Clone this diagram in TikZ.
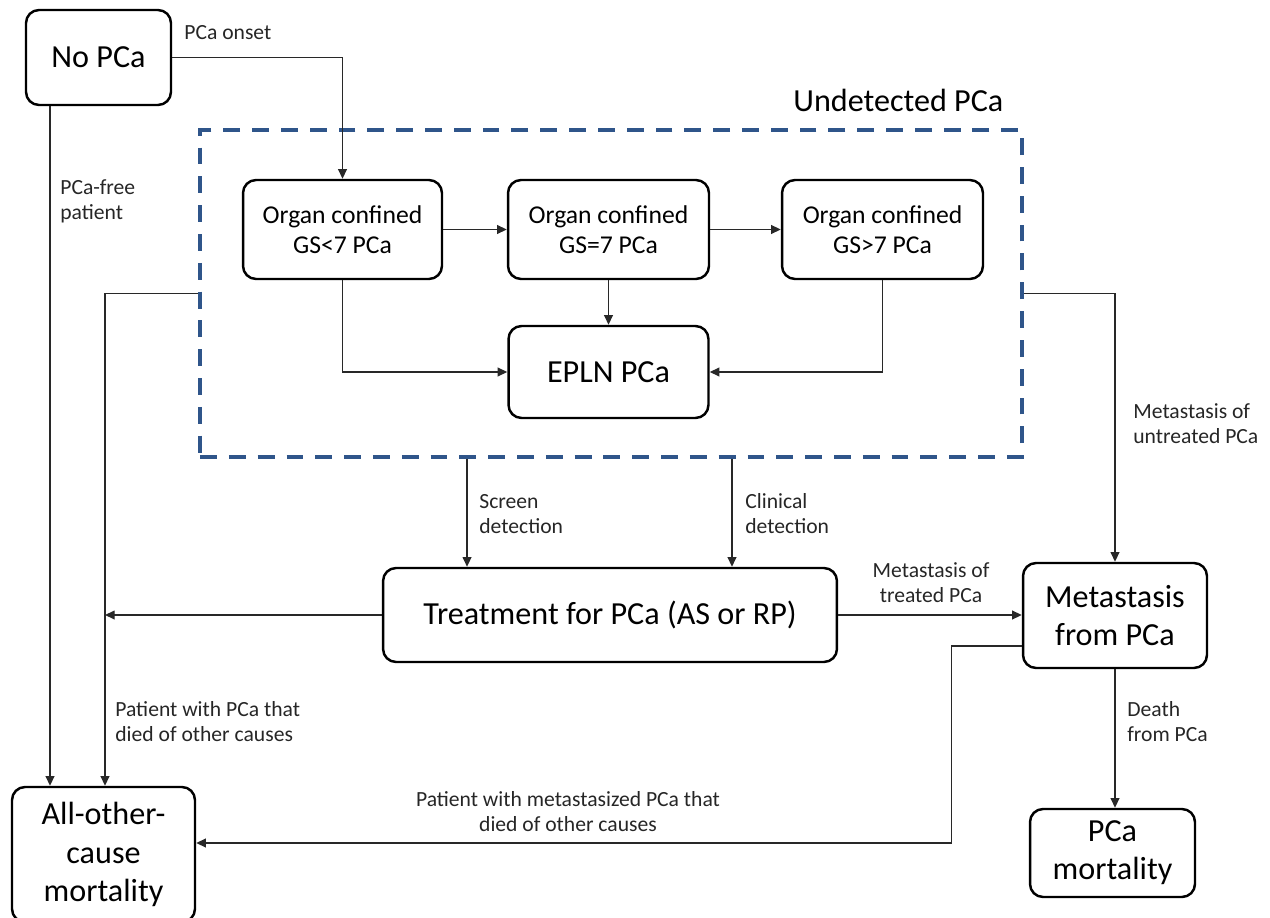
\documentclass[tikz,border=0pt]{standalone}
\usepackage{fontspec}
\setmainfont{Carlito}
\usetikzlibrary{arrows.meta,calc}
\definecolor{dashblue}{RGB}{47,85,138}
\definecolor{linegray}{RGB}{40,40,40}
\tikzset{
  box/.style={draw=black, line width=1.4pt, rounded corners=0.26cm, align=center, inner sep=0pt},
  bigtxt/.style={font=\fontsize{18.3}{21.7}\selectfont},
  midtxt/.style={font=\fontsize{14.6}{17.4}\selectfont},
  lbl/.style={font=\fontsize{12.3}{14.4}\selectfont, inner sep=0pt, align=left, text=black!85},
  arr/.style={draw=linegray, line width=0.75pt, -{Triangle[length=5.5pt,width=5pt]}},
  plain/.style={draw=linegray, line width=0.75pt},
  undetbox/.style={draw=dashblue, line width=1.9pt, dash pattern=on 9.6pt off 6.8pt, inner sep=0pt}
}
\begin{document}
\begin{tikzpicture}[x=0.02cm,y=-0.02cm]
\useasboundingbox (0,0) rectangle (1270,918);
% nodes
\node[undetbox, minimum width=16.44cm, minimum height=6.54cm] (undet) at (611,293.5) {};
\node[bigtxt, anchor=base west, inner sep=0pt] (undetlbl) at (793,112) {Undetected PCa};
\node[box, bigtxt, minimum width=2.9cm, minimum height=1.9cm] (nopca) at (98.5,57.5) {No PCa};
\node[box, midtxt, minimum width=3.98cm, minimum height=1.98cm] (oc1) at (342.5,229.5) {Organ confined\\GS<7 PCa};
\node[box, midtxt, minimum width=4.02cm, minimum height=1.98cm] (oc2) at (608.5,229.5) {Organ confined\\GS=7 PCa};
\node[box, midtxt, minimum width=4.02cm, minimum height=1.98cm] (oc3) at (882.5,229.5) {Organ confined\\GS>7 PCa};
\node[box, bigtxt, minimum width=4.0cm, minimum height=1.84cm] (epln) at (608.5,372) {EPLN PCa};
\node[box, bigtxt, minimum width=9.08cm, minimum height=1.88cm] (treat) at (610,615) {Treatment for PCa (AS or RP)};
\node[box, bigtxt, minimum width=3.68cm, minimum height=2.1cm] (meta) at (1115,615.5) {Metastasis\\from PCa};
\node[box, bigtxt, minimum width=3.3cm, minimum height=1.76cm] (pcam) at (1112.5,853) {PCa\\mortality};
\node[box, bigtxt, minimum width=3.66cm, minimum height=2.7cm] (allo) at (103.5,854.5) {All-other-\\cause\\mortality};
% connectors
\draw[arr] (nopca.east) -| (oc1.north);
\draw[arr] ([xshift=-0.97cm]nopca.south) -- ([xshift=-0.97cm]nopca.south |- allo.north);
\draw[arr] (undet.west) -| ([xshift=0.03cm]allo.north);
\draw[arr] (oc1.east) -- (oc2.west);
\draw[arr] (oc2.east) -- (oc3.west);
\draw[arr] (oc2.south) -- (oc2.south |- epln.north);
\draw[arr] (oc1.south) |- (epln.west);
\draw[arr] (oc3.south) |- (epln.east);
\draw[arr] ([xshift=-2.86cm]treat.north |- undet.south) -- ([xshift=-2.86cm]treat.north);
\draw[arr] ([xshift=2.44cm]treat.north |- undet.south) -- ([xshift=2.44cm]treat.north);
\draw[arr] (treat.west) -- ([xshift=0.03cm]treat.west -| allo.north);
\draw[arr] (treat.east) -- (treat.east -| meta.west);
\draw[arr] (undet.east) -| (meta.north);
\draw[arr] (meta.south) -- (meta.south |- pcam.north);
\draw[arr] ([yshift=-0.61cm]meta.west) -- ([yshift=-0.61cm,xshift=-1.4cm]meta.west) |- ([yshift=0.23cm]allo.east);
% labels
\node[lbl, anchor=base west] (l1) at (184,40) {PCa onset};
\node[lbl, anchor=north west] (l2) at (60,179) {PCa-free\\patient};
\node[lbl, anchor=north west] (l3) at (479,494) {Screen\\detection};
\node[lbl, anchor=north west] (l4) at (745,493) {Clinical\\detection};
\node[lbl, anchor=north, align=center] (l5) at (931,562) {Metastasis of\\treated PCa};
\node[lbl, anchor=north west] (l6) at (1133,403) {Metastasis of\\untreated PCa};
\node[lbl, anchor=north west] (l7) at (1127,701) {Death\\from PCa};
\node[lbl, anchor=north west] (l8) at (115,701) {Patient with PCa that\\died of other causes};
\node[lbl, anchor=north, align=center] (l9) at (568,791) {Patient with metastasized PCa that\\died of other causes};
\end{tikzpicture}
\end{document}
